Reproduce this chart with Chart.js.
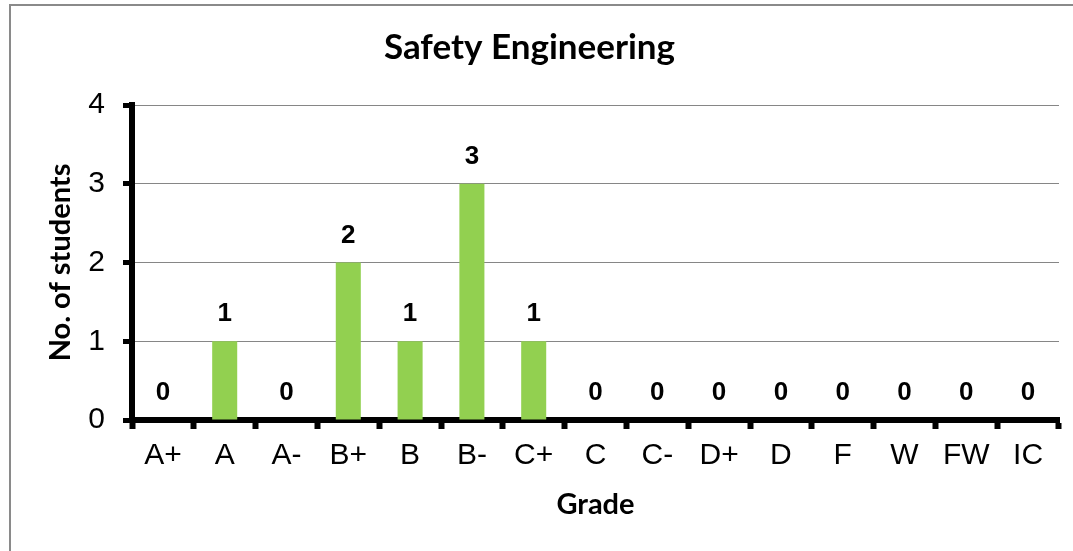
<!DOCTYPE html>
<html>
<head>
<meta charset="utf-8">
<style>
  html, body { margin: 0; padding: 0; background: #fff; overflow: hidden; }
  #wrap { position: relative; width: 1073px; height: 551px; }
  #frame { position: absolute; left: 9px; top: 4px; width: 1100px; height: 600px; border: 2px solid #8a8a8a; }
  #wrap canvas { position: absolute; left: 0; top: 0; }
</style>
<script src="https://cdn.jsdelivr.net/npm/chart.js"></script>
</head>
<body>
<div id="wrap">
  <div id="frame"></div>
  <canvas id="grades" width="1073" height="551"></canvas>
</div>
<script>
  const grades = ["A+", "A", "A-", "B+", "B", "B-", "C+", "C", "C-", "D+", "D", "F", "W", "FW", "IC"];
  const students = [0, 1, 0, 2, 1, 3, 1, 0, 0, 0, 0, 0, 0, 0, 0];
  const yTicks = [0, 1, 2, 3, 4];

  // value labels above each bar
  const barLabels = {
    id: "barLabels",
    afterDatasetsDraw(chart) {
      const ctx = chart.ctx;
      const meta = chart.getDatasetMeta(0);
      ctx.save();
      ctx.font = "bold 26px 'Liberation Sans', Arial, sans-serif";
      ctx.fillStyle = "#000";
      ctx.textAlign = "center";
      ctx.textBaseline = "middle";
      meta.data.forEach((bar, i) => {
        ctx.fillText(String(students[i]), bar.x, bar.y - 27);
      });
      ctx.restore();
    },
  };

  new Chart(document.getElementById("grades"), {
    type: "bar",
    data: {
      labels: grades,
      datasets: [
        {
          label: "No. of students",
          data: students,
          backgroundColor: "#92D050",
          barPercentage: 0.405,
          categoryPercentage: 1,
        },
      ],
    },
    options: {
      responsive: false,
      animation: false,
      layout: { padding: { left: 0, right: 14, top: 0, bottom: 0 } },
      plugins: {
        legend: { display: false },
        tooltip: { enabled: false },
        title: {
          display: true,
          text: "Safety Engineering",
          color: "#000",
          font: { family: "Lato, 'Open Sans', sans-serif", size: 35, weight: "bold" },
          padding: { top: 27, bottom: 36 },
        },
      },
      scales: {
        x: {
          afterFit: (scale) => { scale.height = 131; },
          grid: {
            drawOnChartArea: false,
            offset: true,
            tickLength: 9,
            tickWidth: 6,
            tickColor: "#000",
          },
          border: { color: "#000", width: 6 },
          ticks: {
            color: "#000",
            padding: 9,
            maxRotation: 0,
            autoSkip: false,
            font: { family: "'Liberation Sans', Arial, sans-serif", size: 30 },
          },
          title: {
            display: true,
            text: "Grade",
            color: "#000",
            font: { family: "Lato, 'Open Sans', sans-serif", size: 29, weight: "bold" },
            padding: { top: 0, bottom: 29 },
          },
        },
        y: {
          min: 0,
          max: 4,
          afterFit: (scale) => { scale.width = 132; },
          afterBuildTicks: (scale) => { scale.ticks = yTicks.map((v) => ({ value: v })); },
          grid: {
            color: "#868686",
            lineWidth: 1,
            tickLength: 9,
            tickWidth: 5,
            tickColor: "#000",
          },
          border: { color: "#000", width: 6 },
          ticks: {
            color: "#000",
            padding: 18,
            font: { family: "'Liberation Sans', Arial, sans-serif", size: 30 },
          },
          title: {
            display: true,
            text: "No. of students",
            color: "#000",
            font: { family: "Lato, 'Open Sans', sans-serif", size: 29, weight: "bold" },
            padding: { top: 43, bottom: 0 },
          },
        },
      },
    },
    plugins: [barLabels],
  });
</script>
</body>
</html>
